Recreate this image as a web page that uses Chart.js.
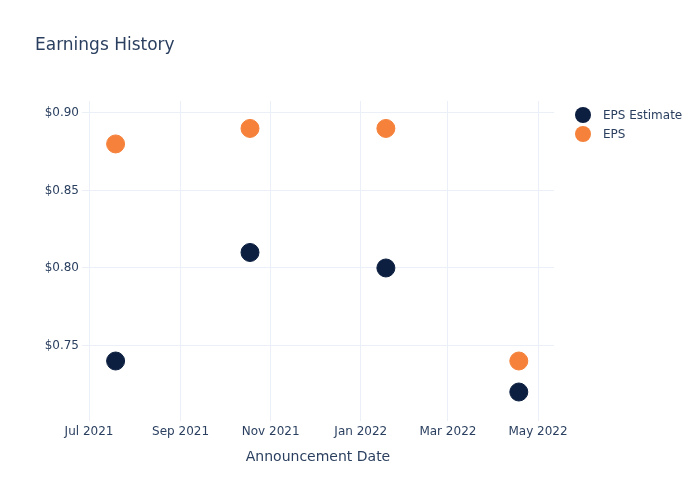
<!DOCTYPE html>
<html>
<head>
<meta charset="utf-8">
<script src="https://cdn.jsdelivr.net/npm/chart.js@4/dist/chart.umd.min.js"></script>
<style>
  html, body { margin: 0; padding: 0; background: #fff; }
  #wrap { width: 700px; height: 500px; }
</style>
</head>
<body>
<div id="wrap"><canvas id="chart" width="700" height="500"></canvas></div>
<script>
const announceDates = ["2021-07-19", "2021-10-18", "2022-01-18", "2022-04-18"];
const epsEstimate = [0.74, 0.81, 0.80, 0.72];
const epsActual = [0.88, 0.89, 0.89, 0.74];

const xTickDates = ["2021-07-01", "2021-09-01", "2021-11-01", "2022-01-01", "2022-03-01", "2022-05-01"];
const xTickLabels = ["Jul 2021", "Sep 2021", "Nov 2021", "Jan 2022", "Mar 2022", "May 2022"];
const yTicks = [0.75, 0.80, 0.85, 0.90];

const xMin = Date.parse("2021-06-26T06:00:00Z");
const xMax = Date.parse("2022-05-11T20:00:00Z");
const yMin = 0.7013;
const yMax = 0.9077;

const FONT = "'DejaVu Sans', 'Open Sans', Verdana, sans-serif";
const TEXT_COLOR = "#2a3f5f";
const GRID_COLOR = "#ebf0f8";
const NAVY = "#0c1f40";
const ORANGE = "#f5813a";

const toPoints = (values) => announceDates.map((d, i) => ({ x: Date.parse(d + "T00:00:00Z"), y: values[i] }));

const legendItems = [
  { label: "EPS Estimate", color: NAVY },
  { label: "EPS", color: ORANGE },
];

const sideLegend = {
  id: "sideLegend",
  afterDraw(chart) {
    const ctx = chart.ctx;
    ctx.save();
    ctx.font = `12px ${FONT}`;
    ctx.textBaseline = "middle";
    legendItems.forEach((item, i) => {
      const y = 115 + i * 19;
      ctx.beginPath();
      ctx.arc(583, y, 8, 0, Math.PI * 2);
      ctx.fillStyle = item.color;
      ctx.fill();
      ctx.fillStyle = TEXT_COLOR;
      ctx.fillText(item.label, 603, y + 1);
    });
    ctx.restore();
  },
};

new Chart(document.getElementById("chart"), {
  type: "scatter",
  data: {
    datasets: [
      {
        label: "EPS Estimate",
        data: toPoints(epsEstimate),
        backgroundColor: NAVY,
        borderColor: NAVY,
        borderWidth: 1,
        pointRadius: 9,
      },
      {
        label: "EPS",
        data: toPoints(epsActual),
        backgroundColor: ORANGE,
        borderColor: ORANGE,
        borderWidth: 1,
        pointRadius: 9,
      },
    ],
  },
  options: {
    responsive: false,
    animation: false,
    layout: { padding: { left: 35, right: 146, top: 0, bottom: 0 } },
    plugins: {
      legend: { display: false },
      tooltip: { enabled: false },
      title: {
        display: true,
        text: "Earnings History",
        align: "start",
        color: TEXT_COLOR,
        font: { family: FONT, size: 17, weight: "normal" },
        padding: { top: 35, bottom: 45.6 },
      },
    },
    scales: {
      x: {
        type: "linear",
        min: xMin,
        max: xMax,
        afterFit: (scale) => { scale.height = 79; },
        afterBuildTicks: (scale) => {
          scale.ticks = xTickDates.map((d) => ({ value: Date.parse(d + "T00:00:00Z") }));
        },
        ticks: {
          color: TEXT_COLOR,
          font: { family: FONT, size: 12 },
          padding: 4,
          maxRotation: 0,
          autoSkip: false,
          callback: (value) => {
            const idx = xTickDates.findIndex((d) => Date.parse(d + "T00:00:00Z") === value);
            return idx >= 0 ? xTickLabels[idx] : "";
          },
        },
        grid: { color: GRID_COLOR, drawTicks: false },
        border: { display: false },
        title: {
          display: true,
          text: "Announcement Date",
          color: TEXT_COLOR,
          font: { family: FONT, size: 14 },
          padding: { top: 0, bottom: 34 },
        },
      },
      y: {
        type: "linear",
        min: yMin,
        max: yMax,
        afterFit: (scale) => { scale.width = 47; },
        afterBuildTicks: (scale) => {
          scale.ticks = yTicks.map((v) => ({ value: v }));
        },
        ticks: {
          color: TEXT_COLOR,
          font: { family: FONT, size: 12 },
          padding: 3,
          callback: (value) => "$" + Number(value).toFixed(2),
        },
        grid: { color: GRID_COLOR, drawTicks: false },
        border: { display: false },
      },
    },
  },
  plugins: [sideLegend],
});
</script>
</body>
</html>
